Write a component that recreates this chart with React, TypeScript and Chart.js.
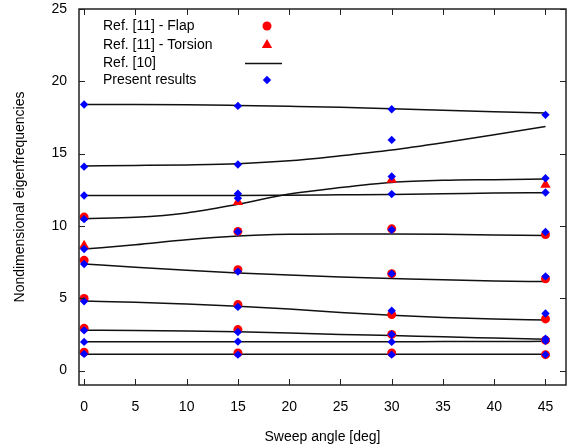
import React, { useEffect, useRef } from "react";
import { Chart, registerables } from "chart.js";

Chart.register(...registerables);

// ---- Data ----
const xTickValues = [0, 5, 10, 15, 20, 25, 30, 35, 40, 45];
const yTickValues = [0, 5, 10, 15, 20, 25];

const sweepAngles = [0, 15, 30, 45];

// Present results (blue diamonds), per sweep angle
const present0 = [18.4, 14.1, 12.1, 10.47, 8.4, 7.37, 4.79, 2.78, 1.98, 1.15];
const present15 = [18.3, 14.25, 12.22, 11.92, 9.6, 6.84, 4.4, 2.67, 2.0, 1.1];
const present30 = [18.07, 15.95, 13.42, 12.2, 9.74, 6.7, 4.14, 2.49, 1.98, 1.1];
const present45 = [17.68, 13.3, 12.31, 9.58, 6.51, 3.94, 2.2, 2.05, 1.1];

// Ref. [11] - Flap (red circles), per sweep angle
const flap0 = [10.61, 7.62, 4.99, 2.92, 1.27];
const flap15 = [9.62, 6.97, 4.56, 2.83, 1.22];
const flap30 = [9.8, 6.7, 3.87, 2.5, 1.22];
const flap45 = [9.4, 6.35, 3.57, 2.1, 1.1];

// Ref. [11] - Torsion (red triangles), one per sweep angle
const torsion = [8.63, 11.65, 13.2, 12.85];

// Ref. [10] curves
const curveAngles = [0, 5, 10, 15, 20, 25, 30, 35, 40, 45];
const ref10Mode1 = [1.12, 1.12, 1.12, 1.12, 1.12, 1.12, 1.12, 1.12, 1.12, 1.12];
const ref10Mode2 = [1.99, 1.99, 1.99, 1.99, 1.99, 1.99, 1.99, 2.0, 2.0, 2.02];
const ref10Mode3 = [2.78, 2.77, 2.74, 2.68, 2.6, 2.5, 2.42, 2.33, 2.25, 2.17];
const ref10Mode4 = [4.8, 4.73, 4.6, 4.45, 4.25, 4.02, 3.82, 3.66, 3.56, 3.5];
const ref10Mode5 = [7.37, 7.14, 6.93, 6.75, 6.6, 6.47, 6.37, 6.27, 6.2, 6.15];
const ref10Mode6 = [8.4, 8.7, 9.05, 9.3, 9.42, 9.45, 9.45, 9.43, 9.38, 9.33];
const ref10Mode7 = [10.5, 10.6, 10.9, 11.5, 12.2, 12.65, 13.0, 13.15, 13.2, 13.25];
const ref10Mode8 = [12.1, 12.1, 12.1, 12.1, 12.12, 12.15, 12.18, 12.22, 12.27, 12.3];
const ref10Mode9 = [14.15, 14.18, 14.22, 14.3, 14.5, 14.85, 15.25, 15.75, 16.3, 16.88];
const ref10Mode10 = [18.4, 18.4, 18.38, 18.33, 18.27, 18.2, 18.1, 18.0, 17.9, 17.8];

const ref10Modes = [
  ref10Mode1, ref10Mode2, ref10Mode3, ref10Mode4, ref10Mode5,
  ref10Mode6, ref10Mode7, ref10Mode8, ref10Mode9, ref10Mode10,
];

const legendLabels = ["Ref. [11] - Flap", "Ref. [11] - Torsion", "Ref. [10]", "Present results"];

const FONT = "'Liberation Sans', Arial, sans-serif";
const RED = "#ff0000";
const BLUE = "#0000ff";

function pointsAt(angle: number, vals: number[]) {
  return vals.map((v) => ({ x: angle, y: v }));
}

const framePlugin = {
  id: "frame",
  afterDraw(chart: any) {
    const { ctx, chartArea } = chart;
    const { left, right, top, bottom } = chartArea;
    const xs = chart.scales.x;
    const ys = chart.scales.y;
    ctx.save();
    ctx.strokeStyle = "#222";
    ctx.lineWidth = 1.5;
    ctx.strokeRect(left, top, right - left, bottom - top);
    ctx.lineWidth = 1;
    const tl = 6;
    ctx.beginPath();
    xTickValues.forEach((v) => {
      const px = Math.round(xs.getPixelForValue(v)) + 0.5;
      ctx.moveTo(px, bottom);
      ctx.lineTo(px, bottom - tl);
      ctx.moveTo(px, top);
      ctx.lineTo(px, top + tl);
    });
    yTickValues.forEach((v) => {
      const py = Math.round(ys.getPixelForValue(v)) + 0.5;
      ctx.moveTo(left, py);
      ctx.lineTo(left + tl, py);
      ctx.moveTo(right, py);
      ctx.lineTo(right - tl, py);
    });
    ctx.stroke();

    // Legend
    const tx = left + 24;
    const sx = left + 188;
    const rows = [top + 17, top + 36, top + 54, top + 71];
    ctx.font = `14px ${FONT}`;
    ctx.fillStyle = "#000";
    ctx.textBaseline = "middle";
    ctx.textAlign = "left";
    legendLabels.forEach((t, i) => ctx.fillText(t, tx, rows[i]));

    // circle
    ctx.fillStyle = RED;
    ctx.beginPath();
    ctx.arc(sx, rows[0], 4.5, 0, Math.PI * 2);
    ctx.fill();
    // triangle
    const r = 6;
    ctx.beginPath();
    ctx.moveTo(sx, rows[1] - r);
    ctx.lineTo(sx + r * 0.866, rows[1] + r * 0.5);
    ctx.lineTo(sx - r * 0.866, rows[1] + r * 0.5);
    ctx.closePath();
    ctx.fill();
    // line
    ctx.strokeStyle = "#111";
    ctx.lineWidth = 1.5;
    ctx.beginPath();
    ctx.moveTo(left + 166, rows[2] + 0.5);
    ctx.lineTo(left + 203, rows[2] + 0.5);
    ctx.stroke();
    // diamond
    ctx.fillStyle = BLUE;
    const d = 4.2;
    ctx.beginPath();
    ctx.moveTo(sx, rows[3] - d);
    ctx.lineTo(sx + d, rows[3]);
    ctx.lineTo(sx, rows[3] + d);
    ctx.lineTo(sx - d, rows[3]);
    ctx.closePath();
    ctx.fill();
    ctx.restore();
  },
};

export default function App() {
  const canvasRef = useRef<HTMLCanvasElement | null>(null);

  useEffect(() => {
    if (!canvasRef.current) return;

    const presentData = [
      ...pointsAt(sweepAngles[0], present0),
      ...pointsAt(sweepAngles[1], present15),
      ...pointsAt(sweepAngles[2], present30),
      ...pointsAt(sweepAngles[3], present45),
    ];
    const flapData = [
      ...pointsAt(sweepAngles[0], flap0),
      ...pointsAt(sweepAngles[1], flap15),
      ...pointsAt(sweepAngles[2], flap30),
      ...pointsAt(sweepAngles[3], flap45),
    ];
    const torsionData = sweepAngles.map((a, i) => ({ x: a, y: torsion[i] }));

    const lineSets = ref10Modes.map((vals, k) => ({
      label: k === 0 ? "Ref. [10]" : `Ref. [10] mode ${k + 1}`,
      data: curveAngles.map((a, i) => ({ x: a, y: vals[i] })),
      showLine: true,
      borderColor: "#111",
      borderWidth: 1.5,
      pointRadius: 0,
      cubicInterpolationMode: "monotone" as const,
      order: 3,
    }));

    const chart = new Chart(canvasRef.current, {
      type: "scatter",
      data: {
        datasets: [
          {
            label: "Present results",
            data: presentData,
            pointStyle: "rectRot",
            pointRadius: 4.2,
            backgroundColor: BLUE,
            borderColor: BLUE,
            borderWidth: 0,
            order: 0,
          },
          {
            label: "Ref. [11] - Torsion",
            data: torsionData,
            pointStyle: "triangle",
            pointRadius: 6,
            backgroundColor: RED,
            borderColor: RED,
            borderWidth: 0,
            order: 1,
          },
          {
            label: "Ref. [11] - Flap",
            data: flapData,
            pointStyle: "circle",
            pointRadius: 4.5,
            backgroundColor: RED,
            borderColor: RED,
            borderWidth: 0,
            order: 2,
          },
          ...lineSets,
        ],
      },
      options: {
        animation: false,
        responsive: false,
        events: [],
        layout: { autoPadding: false, padding: { left: 0, top: 9, right: 2, bottom: 0 } },
        plugins: {
          legend: { display: false },
          tooltip: { enabled: false },
        },
        scales: {
          x: {
            type: "linear",
            min: -0.5,
            max: 47,
            afterBuildTicks: (s: any) => {
              s.ticks = xTickValues.map((v) => ({ value: v }));
            },
            afterFit: (s: any) => {
              s.height = 59;
              s.paddingLeft = 0;
              s.paddingRight = 0;
            },
            grid: { display: false, drawTicks: false },
            border: { display: false },
            ticks: {
              padding: 14,
              color: "#000",
              font: { family: FONT, size: 14 },
              maxRotation: 0,
            },
            title: {
              display: true,
              text: "Sweep angle [deg]",
              color: "#000",
              font: { family: FONT, size: 14 },
              padding: { top: 0, bottom: -2 },
            },
          },
          y: {
            type: "linear",
            min: -1,
            max: 25,
            afterBuildTicks: (s: any) => {
              s.ticks = yTickValues.map((v) => ({ value: v }));
            },
            afterFit: (s: any) => {
              s.width = 79;
              s.paddingTop = 0;
              s.paddingBottom = 0;
            },
            grid: { display: false, drawTicks: false },
            border: { display: false },
            ticks: {
              padding: 12,
              color: "#000",
              font: { family: FONT, size: 14 },
            },
            title: {
              display: true,
              text: "Nondimensional eigenfrequencies",
              color: "#000",
              font: { family: FONT, size: 14 },
              padding: { top: 12, bottom: 0 },
            },
          },
        },
      },
      plugins: [framePlugin],
    });

    return () => chart.destroy();
  }, []);

  return (
    <div style={{ position: "absolute", left: 0, top: 0, width: 568, height: 444, background: "#fff" }}>
      <canvas ref={canvasRef} width={568} height={444} />
    </div>
  );
}
